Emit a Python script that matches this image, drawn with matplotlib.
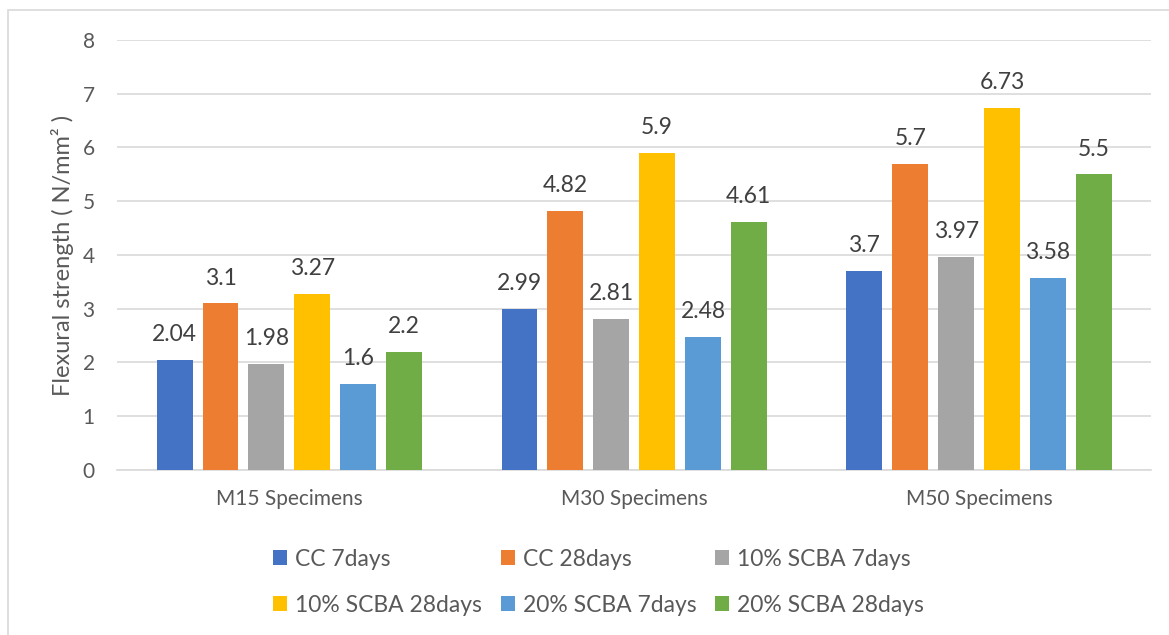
import numpy as np
import matplotlib
matplotlib.use("Agg")
from matplotlib import pyplot as plt
from matplotlib.patches import Rectangle

plt.rcParams['font.family'] = ['Lato', 'DejaVu Sans']

groups = ['M15 Specimens', 'M30 Specimens', 'M50 Specimens']
series = ['CC 7days', 'CC 28days', '10% SCBA 7days',
          '10% SCBA 28days', '20% SCBA 7days', '20% SCBA 28days']
cc_7 = [2.04, 2.99, 3.7]
cc_28 = [3.1, 4.82, 5.7]
scba10_7 = [1.98, 2.81, 3.97]
scba10_28 = [3.27, 5.9, 6.73]
scba20_7 = [1.6, 2.48, 3.58]
scba20_28 = [2.2, 4.61, 5.5]
values = [cc_7, cc_28, scba10_7, scba10_28, scba20_7, scba20_28]
colors = ['#4472C4', '#ED7D31', '#A5A5A5', '#FFC000', '#5B9BD5', '#70AD47']

txt = '#595959'
fig = plt.figure(figsize=(11.69, 6.35), dpi=100)
ax = fig.add_axes([0.100, 0.260, 0.885, 0.677])

# chart border like Excel
fig.patches.append(Rectangle((8 / 1169, -0.1), 1.2, 1 - 10 / 635 + 0.1,
                             transform=fig.transFigure, fill=False,
                             edgecolor='#d9d9d9', linewidth=1.2))

x = np.arange(len(groups))
stride = 0.133
width = 0.104
handles = []
for i, vals in enumerate(values):
    pos = x + (i - 2.5) * stride
    b = ax.bar(pos, vals, width, color=colors[i], label=series[i], zorder=3)
    handles.append(b)
    for p, v in zip(pos, vals):
        ax.text(p, v + 0.35, f'{v:g}', ha='center', va='baseline',
                fontsize=16.5, color='#404040')

ax.set_xlim(-0.5, 2.5)
ax.set_ylim(0, 8)
ax.set_yticks(range(0, 9))
ax.set_xticks(x)
ax.set_xticklabels(groups)
ax.tick_params(axis='both', length=0, labelsize=15, colors=txt)
ax.tick_params(axis='x', pad=14)
ax.tick_params(axis='y', pad=16)
ax.grid(axis='y', color='#d9d9d9', linewidth=1.2, zorder=0)
for s in ['top', 'right', 'left']:
    ax.spines[s].set_visible(False)
ax.spines['bottom'].set_color('#d9d9d9')
ax.spines['bottom'].set_linewidth(1.2)
ax.set_ylabel('Flexural strength ( N/mm² )', fontsize=17, color=txt, labelpad=6)

# Excel fills the legend row by row
order = [0, 3, 1, 4, 2, 5]
leg = fig.legend([handles[i] for i in order], [series[i] for i in order],
                 loc='center', bbox_to_anchor=(0.512, 0.083), ncol=3,
                 frameon=False, fontsize=16.5, handlelength=0.62,
                 handleheight=0.62, handletextpad=0.35, columnspacing=0.8,
                 labelspacing=1.1)
for t in leg.get_texts():
    t.set_color(txt)

fig.savefig('out.png', dpi=100)
